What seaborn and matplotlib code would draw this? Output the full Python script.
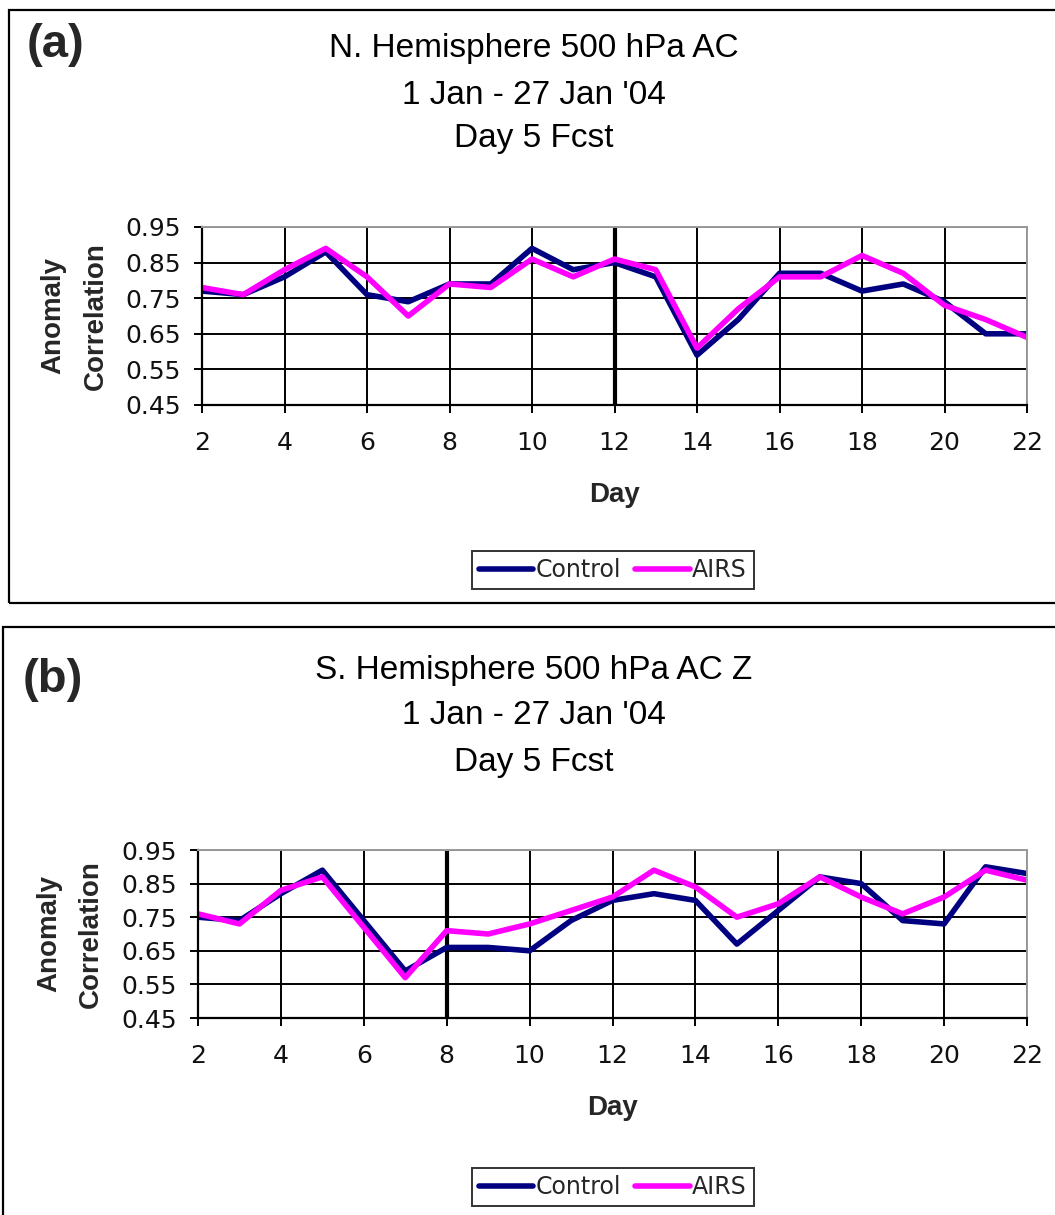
import numpy as np
import pandas as pd
import seaborn as sns
import matplotlib.pyplot as plt
from matplotlib.patches import Rectangle
from matplotlib.lines import Line2D

# Chart values
days = list(range(2, 23))

nh_control = [0.77, 0.76, 0.81, 0.88, 0.76, 0.74, 0.79, 0.79, 0.89, 0.83, 0.85,
              0.81, 0.59, 0.69, 0.82, 0.82, 0.77, 0.79, 0.74, 0.65, 0.65]
nh_airs = [0.78, 0.76, 0.83, 0.89, 0.81, 0.70, 0.79, 0.78, 0.86, 0.81, 0.86,
           0.83, 0.61, 0.72, 0.81, 0.81, 0.87, 0.82, 0.73, 0.69, 0.64]

sh_control = [0.75, 0.74, 0.82, 0.89, 0.74, 0.59, 0.66, 0.66, 0.65, 0.74, 0.80,
              0.82, 0.80, 0.67, 0.77, 0.87, 0.85, 0.74, 0.73, 0.90, 0.88]
sh_airs = [0.76, 0.73, 0.83, 0.87, 0.72, 0.57, 0.71, 0.70, 0.73, 0.77, 0.81,
           0.89, 0.84, 0.75, 0.79, 0.87, 0.81, 0.76, 0.81, 0.89, 0.86]

series_names = ["Control", "AIRS"]
y_ticks = [0.45, 0.55, 0.65, 0.75, 0.85, 0.95]
x_ticks = list(range(2, 23, 2))

panel_tags = ["(a)", "(b)"]
panel_titles = [
    ["N. Hemisphere 500 hPa AC", "1 Jan - 27 Jan '04", "Day 5 Fcst"],
    ["S. Hemisphere 500 hPa AC Z", "1 Jan - 27 Jan '04", "Day 5 Fcst"],
]
marker_days = [12, 8]

palette = {"Control": "#000080", "AIRS": "#FF00FF"}

sns.set_theme(style="white")
plt.rcParams["font.family"] = ["Liberation Sans", "DejaVu Sans"]

W, H = 1055, 1215
fig = plt.figure(figsize=(W / 100, H / 100), dpi=100)


def fx(px):
    return px / W


def fy(py):
    return 1 - py / H


# panel layout in pixels: (left, top, right, bottom) of plot area
axes_px = [(202, 227, 1027, 405), (198, 850, 1027, 1018)]
title_y = [[48, 95, 138], [670, 716, 762]]
tag_pos = [(27, 45), (23, 680)]
legend_y = [570, 1187]
frames_px = [(9, 10, 1070, 603), (3, 627, 1070, 1230)]

data = [(nh_control, nh_airs), (sh_control, sh_airs)]

for i in range(2):
    l, t, r, b = frames_px[i]
    fig.patches.append(Rectangle((fx(l), fy(b)), fx(r - l), (b - t) / H,
                                 transform=fig.transFigure, fill=False,
                                 edgecolor="black", linewidth=1.6))

    l, t, r, b = axes_px[i]
    ax = fig.add_axes([fx(l), fy(b), fx(r - l), (b - t) / H])

    ctrl, airs = data[i]
    df = pd.DataFrame({
        "Day": days * 2,
        "AC": ctrl + airs,
        "Run": ["Control"] * len(days) + ["AIRS"] * len(days),
    })
    sns.lineplot(data=df, x="Day", y="AC", hue="Run", hue_order=series_names,
                 palette=palette, linewidth=4, ax=ax, legend=False)

    ax.set_xlim(2, 22)
    ax.set_ylim(0.45, 0.95)
    ax.set_xticks(x_ticks)
    ax.set_yticks(y_ticks)
    ax.set_yticklabels([f"{v:.2f}" for v in y_ticks])
    ax.grid(True, color="black", linewidth=1.4)
    ax.set_axisbelow(True)
    ax.axvline(marker_days[i], color="black", linewidth=3, zorder=1)

    for s in ["top", "right"]:
        ax.spines[s].set_color("#9a9a9a")
        ax.spines[s].set_linewidth(1.4)
    for s in ["left", "bottom"]:
        ax.spines[s].set_color("black")
        ax.spines[s].set_linewidth(1.6)

    ax.tick_params(axis="both", direction="out", length=6, width=1.4,
                   color="black", labelsize=18, labelcolor="#111111")
    ax.tick_params(axis="x", pad=13)
    ax.tick_params(axis="y", pad=9)
    ax.tick_params(left=True, bottom=True)
    for lab in ax.get_xticklabels() + ax.get_yticklabels():
        lab.set_family("DejaVu Sans")

    ax.set_xlabel("Day", fontsize=20, fontweight="bold", labelpad=19)
    ax.set_ylabel("Anomaly\nCorrelation", fontsize=20, fontweight="bold",
                  linespacing=1.8)
    ax.yaxis.set_label_coords(-0.113, 0.5)

    for line, yy in zip(panel_titles[i], title_y[i]):
        fig.text(0.506, fy(yy), line, ha="center", va="center", fontsize=24,
                 color="black")

    fig.text(fx(tag_pos[i][0]), fy(tag_pos[i][1]), panel_tags[i],
             ha="left", va="center", fontsize=34, fontweight="bold")

    handles = [Line2D([0], [0], color=palette[n], linewidth=4) for n in series_names]
    leg = fig.legend(handles, series_names, loc="center",
                     bbox_to_anchor=(fx(613), fy(legend_y[i])), ncol=2,
                     prop={"family": "DejaVu Sans", "size": 17},
                     frameon=True, fancybox=False,
                     handlelength=2.3, handletextpad=0.1, columnspacing=0.6,
                     borderpad=0.3, borderaxespad=0)
    leg.get_frame().set_edgecolor("black")
    leg.get_frame().set_linewidth(1.4)

fig.savefig("out.png", dpi=100)
